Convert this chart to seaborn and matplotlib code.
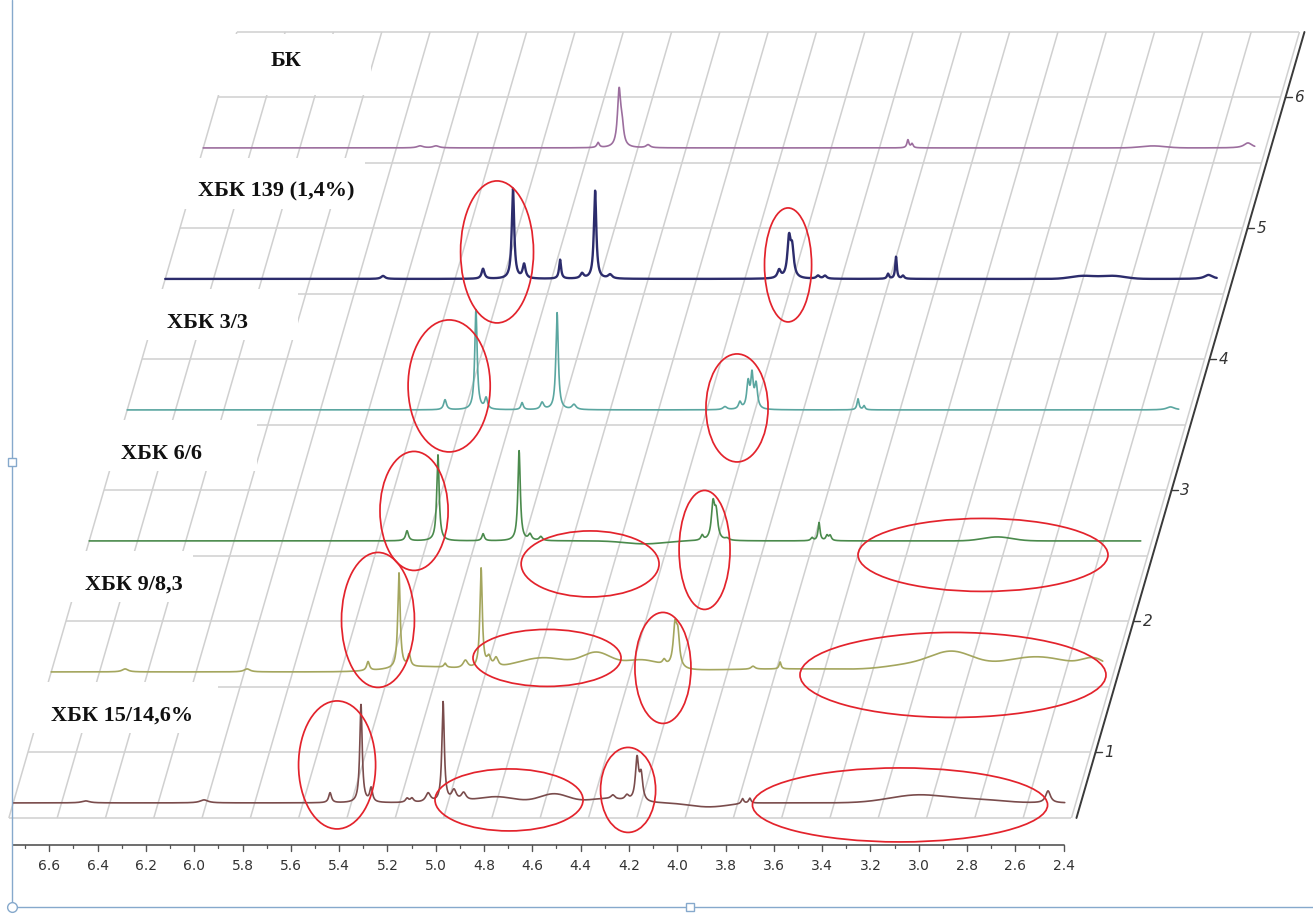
import numpy as np
import pandas as pd
import matplotlib
matplotlib.use("Agg")
import matplotlib.pyplot as plt
from matplotlib.patches import Ellipse, Rectangle
import seaborn as sns

# ---------------------------------------------------------------- data ----
SAMPLE_NAMES = ["ХБК 15/14,6%", "ХБК 9/8,3", "ХБК 6/6", "ХБК 3/3", "ХБК 139 (1,4%)", "БК"]
SLICE_INDEX = [1, 2, 3, 4, 5, 6]
LINE_COLORS = ["#7a4c4c", "#a4a65e", "#4a8a4c", "#5aa6a0", "#2c2c6c", "#9c6e9e"]

PPM_TICKS = [6.6, 6.4, 6.2, 6.0, 5.8, 5.6, 5.4, 5.2, 5.0, 4.8, 4.6, 4.4,
             4.2, 4.0, 3.8, 3.6, 3.4, 3.2, 3.0, 2.8, 2.6, 2.4]
PPM_MINOR = [6.7, 6.5, 6.3, 6.1, 5.9, 5.7, 5.5, 5.3, 5.1, 4.9, 4.7, 4.5,
             4.3, 4.1, 3.9, 3.7, 3.5, 3.3, 3.1, 2.9, 2.7, 2.5]
GRID_PPM = [6.8] + PPM_TICKS
DEPTH_TICKS = [1, 2, 3, 4, 5, 6]
DEPTH_GRID = [0.5, 1.0, 1.5, 2.0, 2.5, 3.0, 3.5, 4.0, 4.5, 5.0, 5.5, 6.0, 6.5]

# sharp resonances: (shift ppm, height, half width ppm)
PEAKS_15 = [(6.50, 2, 0.02), (6.01, 3, 0.02), (5.488, 10, 0.007), (5.360, 98, 0.006),
            (5.318, 14, 0.007), (5.169, 4, 0.008), (5.149, 4, 0.008), (5.082, 9, 0.012),
            (5.020, 100, 0.006), (4.975, 11, 0.012), (4.935, 8, 0.012), (4.317, 4, 0.01),
            (4.259, 5, 0.01), (4.217, 42, 0.008), (4.200, 25, 0.008), (3.780, 5, 0.006),
            (3.750, 5, 0.006), (2.515, 12, 0.012)]
PEAKS_9 = [(6.494, 3, 0.015), (5.989, 3, 0.015), (5.488, 9, 0.007), (5.360, 95, 0.006),
           (5.318, 12, 0.007), (5.169, 4, 0.006), (5.085, 8, 0.012), (5.020, 100, 0.006),
           (4.988, 10, 0.010), (4.958, 9, 0.010), (4.262, 5, 0.008), (4.217, 40, 0.009),
           (4.205, 28, 0.008), (3.894, 3, 0.01), (3.782, 7, 0.005)]
PEAKS_6 = [(5.484, 10, 0.007), (5.356, 86, 0.006), (5.169, 7, 0.006), (5.020, 90, 0.006),
           (4.975, 6, 0.008), (4.930, 4, 0.008), (4.262, 5, 0.006), (4.217, 35, 0.008),
           (4.204, 25, 0.008), (4.159, 2, 0.01), (3.807, 3, 0.006), (3.778, 18, 0.005),
           (3.745, 5, 0.006), (3.732, 5, 0.006)]
PEAKS_3 = [(5.484, 10, 0.007), (5.356, 100, 0.006), (5.314, 11, 0.007), (5.165, 7, 0.006),
           (5.082, 7, 0.008), (5.020, 97, 0.006), (4.950, 5, 0.01), (4.325, 3, 0.01),
           (4.263, 7, 0.007), (4.229, 26, 0.007), (4.213, 32, 0.006), (4.196, 24, 0.007),
           (3.774, 11, 0.005), (3.749, 4, 0.005), (2.480, 3, 0.02)]
PEAKS_139 = [(5.898, 3, 0.01), (5.484, 10, 0.007), (5.360, 90, 0.006), (5.314, 14, 0.007),
             (5.165, 19, 0.005), (5.074, 5, 0.008), (5.020, 88, 0.006), (4.958, 4, 0.01),
             (4.258, 8, 0.008), (4.217, 38, 0.008), (4.204, 27, 0.008), (4.097, 3, 0.008),
             (4.068, 3, 0.008), (3.807, 5, 0.005), (3.774, 22, 0.004), (3.745, 3, 0.006),
             (2.480, 4, 0.02)]
PEAKS_BK = [(5.902, 2, 0.015), (5.836, 2, 0.015), (5.165, 5, 0.006), (5.078, 55, 0.008),
            (5.066, 18, 0.008), (4.958, 3, 0.01), (3.882, 8, 0.005), (3.865, 4, 0.005),
            (2.474, 5, 0.02)]

# broad features: (shift ppm, height, sigma ppm)
HUMPS_15 = [(4.80, 6, 0.08), (4.56, 9, 0.06), (4.35, 4, 0.07), (3.92, -4, 0.08),
            (3.05, 8, 0.12), (2.80, 3, 0.10)]
HUMPS_9 = [(5.25, 5, 0.14), (4.76, 14, 0.12), (4.54, 16, 0.06), (4.36, 11, 0.08),
           (3.70, 3, 0.40), (3.25, 5, 0.10), (3.07, 18, 0.09), (2.72, 15, 0.15),
           (2.48, 10, 0.05)]
HUMPS_6 = [(4.50, -3, 0.08), (3.04, 4, 0.06)]
HUMPS_3 = []
HUMPS_139 = [(3.00, 3, 0.05), (2.875, 3, 0.05)]
HUMPS_BK = [(2.867, 2, 0.05)]

SPECTRA_PEAKS = [PEAKS_15, PEAKS_9, PEAKS_6, PEAKS_3, PEAKS_139, PEAKS_BK]
SPECTRA_HUMPS = [HUMPS_15, HUMPS_9, HUMPS_6, HUMPS_3, HUMPS_139, HUMPS_BK]

# highlighted regions: (slice, centre ppm, vertical offset, width ppm, height)
HIGHLIGHTS = [(5, 5.426, 27, 0.302, 142), (5, 4.221, 14, 0.195, 114),
              (4, 5.467, 24, 0.340, 132), (4, 4.275, 2, 0.257, 108),
              (3, 5.455, 30, 0.282, 119), (3, 4.726, -23, 0.571, 66),
              (3, 4.252, -9, 0.211, 119), (3, 3.099, -14, 1.035, 73),
              (2, 5.447, 52, 0.302, 135), (2, 4.747, 14, 0.613, 57),
              (2, 4.267, 4, 0.232, 111), (2, 3.066, -3, 1.267, 85),
              (1, 5.459, 38, 0.319, 128), (1, 4.747, 3, 0.613, 62),
              (1, 4.254, 13, 0.228, 85), (1, 3.128, -2, 1.222, 74)]

# ------------------------------------------------------------- layout ----
W, H = 1313, 915
PX_PER_PPM = 241.5
PX_PER_DEPTH = 131.0
SKEW = 38.0 / PX_PER_PPM          # ppm shift per unit of depth
INT_SCALE = 1.0 / PX_PER_DEPTH    # intensity unit -> depth units
X_LEFT = 6.758
Y_BOTTOM = -0.2405
SLICE_OFFSET = -0.385             # baseline of each trace relative to its slice tick
PPM_MIN, PPM_MAX = 2.40, 6.80
AXIS_DEPTH = 0.294
LABEL_PPM = [6.75, 6.763, 6.775, 6.738, 6.767, 6.627]
LABEL_RISE = 87
# white panel behind each name, in pixels: (left, right, above centre, below centre)
LABEL_PANEL = [(22, 25, 34, 17), (22, 10, 34, 17), (22, 55, 34, 17),
               (22, 50, 34, 17), (22, 10, 34, 17), (70, 70, 27, 34)]


def proj_x(ppm, depth):
    return np.asarray(ppm, dtype=float) - SKEW * np.asarray(depth, dtype=float)


def trace(peaks, humps, ppm):
    y = np.zeros_like(ppm)
    for c, h, w in peaks:
        y += h * w ** 2 / ((ppm - c) ** 2 + w ** 2)
    for c, h, s in humps:
        y += h * np.exp(-0.5 * ((ppm - c) / s) ** 2)
    return y


sns.set_theme(style="white")
plt.rcParams["font.family"] = ["DejaVu Sans"]

fig = plt.figure(figsize=(W / 100, H / 100), dpi=100)
ax = fig.add_axes([0, 0, 1, 1])
ax.set_xlim(X_LEFT, X_LEFT - W / PX_PER_PPM)
ax.set_ylim(Y_BOTTOM, Y_BOTTOM + H / PX_PER_DEPTH)
ax.axis("off")

grid_kw = dict(color="#d0d0d0", lw=1.1, zorder=1, solid_capstyle="butt")
# floor grid: rows of constant depth
for d in DEPTH_GRID:
    ax.plot(proj_x([PPM_MAX, PPM_MIN], [d, d]), [d, d], **grid_kw)
# floor grid: lines of constant shift running into depth
d0, d1 = DEPTH_GRID[0], DEPTH_GRID[-1]
for p in GRID_PPM:
    ax.plot(proj_x([p, p], [d0, d1]), [d0, d1], **grid_kw)

# depth axis on the right
axis_ppm = PPM_MIN - 5 / PX_PER_PPM
ax.plot(proj_x([axis_ppm, axis_ppm], [d0, d1]), [d0, d1], color="#3a3a3a", lw=1.4, zorder=4)
for t in DEPTH_TICKS:
    x0 = proj_x(axis_ppm, t)
    ax.plot([x0, x0 - 7 / PX_PER_PPM], [t, t], color="#3a3a3a", lw=1.0, zorder=4)
    ax.text(x0 - 9 / PX_PER_PPM, t, str(t), fontsize=11, fontstyle="italic",
            color="#333333", ha="left", va="center", zorder=4)

# chemical shift axis at the front
ax.plot(proj_x([6.75, PPM_MIN], [AXIS_DEPTH] * 2), [AXIS_DEPTH] * 2,
        color="#555555", lw=1.2, zorder=4)
for p in PPM_TICKS:
    x0 = proj_x(p, AXIS_DEPTH)
    ax.plot([x0, x0], [AXIS_DEPTH, AXIS_DEPTH - 6 / PX_PER_DEPTH], color="#555555", lw=1.0, zorder=4)
    ax.text(x0, AXIS_DEPTH - 21 / PX_PER_DEPTH, f"{p:.1f}", fontsize=10,
            color="#333333", ha="center", va="center", zorder=4)
for p in PPM_MINOR:
    x0 = proj_x(p, AXIS_DEPTH)
    ax.plot([x0, x0], [AXIS_DEPTH, AXIS_DEPTH - 3.5 / PX_PER_DEPTH], color="#555555", lw=0.9, zorder=4)

# stacked spectra
ppm = np.arange(6.80, 2.445, -0.001)
for i, k in enumerate(SLICE_INDEX):
    depth = k + SLICE_OFFSET
    inten = trace(SPECTRA_PEAKS[i], SPECTRA_HUMPS[i], ppm)
    df = pd.DataFrame({"x": proj_x(ppm, depth), "y": depth + inten * INT_SCALE})
    sns.lineplot(data=df, x="x", y="y", sort=False, estimator=None, ax=ax,
                 color=LINE_COLORS[i], lw=1.7 if k == 5 else 1.2, zorder=3)

# sample names on white panels
names = []
for i, k in enumerate(SLICE_INDEX):
    depth = k + SLICE_OFFSET
    yl = depth + LABEL_RISE * INT_SCALE
    names.append(ax.text(proj_x(LABEL_PPM[i], yl), yl, SAMPLE_NAMES[i], fontsize=16,
                         fontweight="bold", family=["Liberation Serif", "DejaVu Serif"],
                         color="#111111", ha="left", va="center", zorder=5))
fig.canvas.draw()
renderer = fig.canvas.get_renderer()
to_data = ax.transData.inverted()
for t, (pl, pr, pt, pb) in zip(names, LABEL_PANEL):
    bb = t.get_window_extent(renderer)
    cy = 0.5 * (bb.y0 + bb.y1)
    (x0, y0), (x1, y1) = to_data.transform([(bb.x0 - pl, cy - pb), (bb.x1 + pr, cy + pt)])
    ax.add_patch(Rectangle((min(x0, x1), y0), abs(x1 - x0), y1 - y0,
                           fc="white", ec="none", zorder=2))

# highlighted regions
for k, c, off, w, h in HIGHLIGHTS:
    depth = k + SLICE_OFFSET
    ax.add_patch(Ellipse((proj_x(c, depth), depth + off * INT_SCALE), w, h * INT_SCALE,
                         fill=False, ec="#e3232c", lw=1.25, zorder=6))

# frame lines of the embedding
frame = "#86a9cc"
ax.plot([12 / W, 12 / W], [1, 1 - 907 / H], color=frame, lw=1.0, transform=ax.transAxes, zorder=7)
ax.plot([12 / W, 1], [1 - 907 / H, 1 - 907 / H], color=frame, lw=1.0, transform=ax.transAxes, zorder=7)
ax.plot([12 / W], [1 - 462 / H], marker="s", ms=6, mfc="white", mec=frame, transform=ax.transAxes, zorder=8)
ax.plot([690 / W], [1 - 907 / H], marker="s", ms=6, mfc="white", mec=frame, transform=ax.transAxes, zorder=8)
ax.plot([12 / W], [1 - 907 / H], marker="o", ms=7, mfc="white", mec=frame, transform=ax.transAxes, zorder=8)

fig.savefig("out.png", dpi=100)
